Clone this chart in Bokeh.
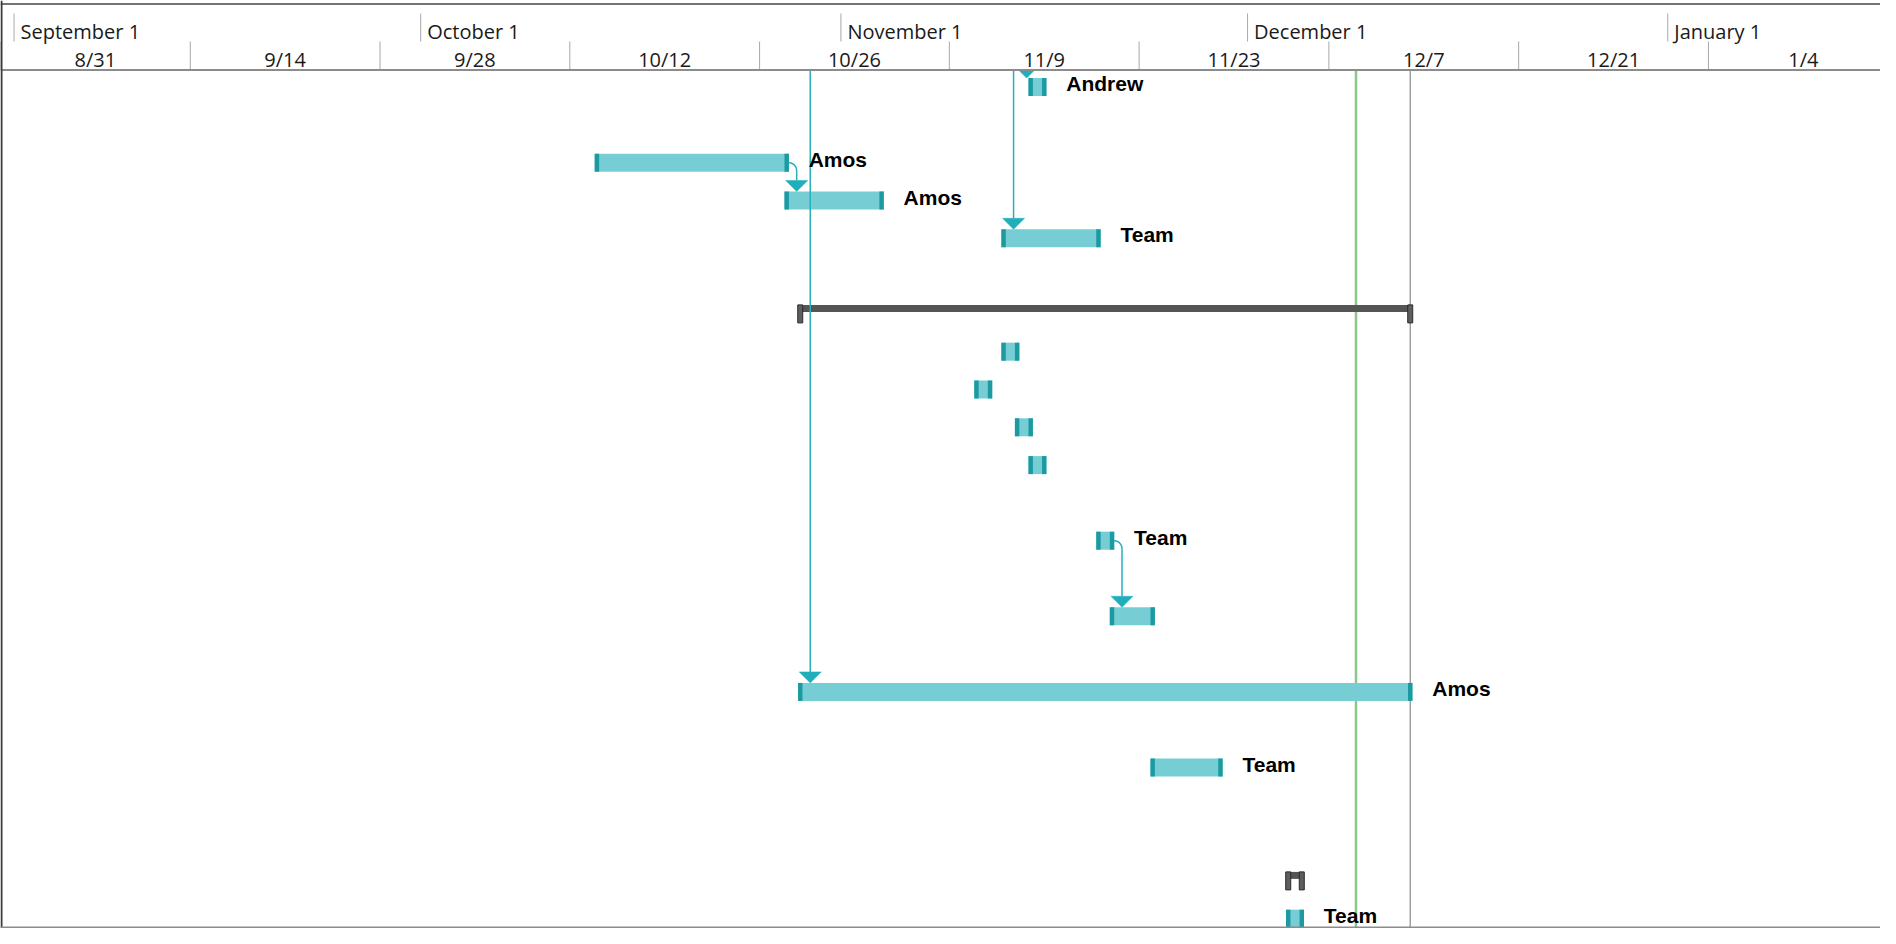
import numpy as np
import pandas as pd
from bokeh.plotting import figure
from bokeh.models import Range1d, Span
from bokeh.core.properties import value
from bokeh.embed import file_html
from bokeh.resources import INLINE

# ---------------- data ----------------
origin = "2020-08-31"
week_starts = ["2020-08-31", "2020-09-14", "2020-09-28", "2020-10-12", "2020-10-26",
               "2020-11-09", "2020-11-23", "2020-12-07", "2020-12-21", "2021-01-04"]
week_labels = ["8/31", "9/14", "9/28", "10/12", "10/26", "11/9", "11/23", "12/7", "12/21", "1/4"]
month_starts = ["2020-09-01", "2020-10-01", "2020-11-01", "2020-12-01", "2021-01-01"]
month_labels = ["September 1", "October 1", "November 1", "December 1", "January 1"]

task_row = [0, 2, 3, 4, 6, 7, 8, 9, 10, 12, 14, 16, 18, 21, 22]
task_start = ["2020-11-15", "2020-10-14", "2020-10-28", "2020-11-13", "2020-10-29",
              "2020-11-13", "2020-11-11", "2020-11-14", "2020-11-15", "2020-11-20",
              "2020-11-21", "2020-10-29", "2020-11-24", "2020-12-04", "2020-12-04"]
task_end = ["2020-11-16", "2020-10-28", "2020-11-04", "2020-11-20", "2020-12-13",
            "2020-11-14", "2020-11-12", "2020-11-15", "2020-11-16", "2020-11-21",
            "2020-11-24", "2020-12-13", "2020-11-29", "2020-12-05", "2020-12-05"]
task_type = ["task", "task", "task", "task", "summary",
             "task", "task", "task", "task", "task",
             "task", "task", "task", "summary", "task"]
task_resource = ["Andrew", "Amos", "Amos", "Team", "",
                 "", "", "", "", "Team",
                 "", "Amos", "Team", "", "Team"]

# dependencies: predecessor row (None = off-screen above) -> successor row
dep_from = [2, 12, None, None, None]
dep_to = [3, 14, 16, 4, 0]
dep_arrow_offset_px = [10, 10, 10, 10, -4]

today = "2020-12-09"
project_end = "2020-12-13"

# ---------------- scales / layout ----------------
W = 1880
H = 928
PX_DAY = 13.555
ROW_PX = 37.8
ROW0_PX = 86.6
HEADER_BOTTOM_PX = 69.5

x0 = 0.0
x1 = W / PX_DAY
y_top = (0 - ROW0_PX) / ROW_PX
y_bot = (H - ROW0_PX) / ROW_PX


def days(s):
    return (pd.Timestamp(s) - pd.Timestamp(origin)) / pd.Timedelta(days=1)


def dxp(px):
    return px / PX_DAY


def dyp(px):
    return px / ROW_PX


def yr(py):
    # frame pixel (from top) -> row units
    return (py - ROW0_PX) / ROW_PX


TEAL_LIGHT = "#77cdd4"
TEAL_DARK = "#16979f"
TEAL_LINE = "#27b0bb"
SUM_GRAY = "#555555"

p = figure(width=W, height=H, x_range=Range1d(x0, x1), y_range=Range1d(y_bot, y_top),
           toolbar_location=None, output_backend="svg", x_axis_location=None,
           y_axis_location=None, min_border=0, outline_line_color=None)
p.grid.visible = False

s_arr = np.array([days(s) for s in task_start])
e_arr = np.array([days(e) for e in task_end])
r_arr = np.array(task_row, dtype=float)
is_task = np.array([t == "task" for t in task_type])
is_sum = ~is_task

# today / project end lines (below header)
p.segment(x0=[days(today)], x1=[days(today)], y0=[yr(HEADER_BOTTOM_PX)], y1=[y_bot],
          line_color="#8cc78a", line_width=2.5)
p.segment(x0=[days(project_end)], x1=[days(project_end)], y0=[yr(HEADER_BOTTOM_PX)], y1=[y_bot],
          line_color="#8a8a8a", line_width=1.2)

# normal tasks
ts, te, tr = s_arr[is_task], e_arr[is_task], r_arr[is_task]
p.quad(left=ts - dxp(2.25), right=te + dxp(2.25), top=tr - dyp(9), bottom=tr + dyp(9),
       fill_color=TEAL_LIGHT, line_color=None)
cap_x = np.concatenate([ts, te])
cap_r = np.concatenate([tr, tr])
p.quad(left=cap_x - dxp(2.2), right=cap_x + dxp(2.2), top=cap_r - dyp(9), bottom=cap_r + dyp(9),
       fill_color=TEAL_DARK, line_color=None, fill_alpha=0.95)

# summary tasks
ss, se, sr = s_arr[is_sum], e_arr[is_sum], r_arr[is_sum]
p.quad(left=ss, right=se, top=sr - dyp(9), bottom=sr - dyp(2),
       fill_color=SUM_GRAY, line_color=None)
scx = np.concatenate([ss, se])
scr = np.concatenate([sr, sr])
p.quad(left=scx - dxp(2.5), right=scx + dxp(2.5), top=scr - dyp(9), bottom=scr + dyp(9),
       fill_color="#5e5e5e", line_color="#2a2a2a", line_width=1)

# dependencies
row_to_idx = {r: i for i, r in enumerate(task_row)}
line_xs, line_ys, tri_xs, tri_ys = [], [], [], []
for fr, to, off in zip(dep_from, dep_to, dep_arrow_offset_px):
    ti = row_to_idx[to]
    ax = s_arr[ti] + dxp(off)
    tip_y = r_arr[ti] - dyp(9)
    base_y = tip_y - dyp(11)
    if fr is None:
        line_xs.append([ax, ax])
        line_ys.append([yr(50), base_y])
    else:
        fi = row_to_idx[fr]
        sx = e_arr[fi] + dxp(2.25)
        sy = r_arr[fi]
        rad = 8
        cx, cy = ax - dxp(rad), sy + dyp(rad)
        t = np.linspace(0, np.pi / 2, 12)
        xs = [sx] + list(cx + dxp(rad) * np.sin(t)) + [ax]
        ys = [sy] + list(cy - dyp(rad) * np.cos(t)) + [base_y]
        line_xs.append(xs)
        line_ys.append(ys)
    tri_xs.append([ax - dxp(11), ax + dxp(11), ax])
    tri_ys.append([base_y, base_y, tip_y])

p.multi_line(xs=line_xs, ys=line_ys, line_color=TEAL_LINE, line_width=1.5)
p.patches(xs=tri_xs, ys=tri_ys, fill_color="#20afba", line_color="#20afba", line_width=0.5)

# resource labels
lab_idx = [i for i, t in enumerate(task_resource) if t]
p.text(x=[e_arr[i] + dxp(22) for i in lab_idx], y=[r_arr[i] - dyp(3.5) for i in lab_idx],
       text=[task_resource[i] for i in lab_idx], text_font=value("Liberation Sans"),
       text_font_style="bold", text_font_size="21px", text_color="#000000",
       text_align="left", text_baseline="middle")

# ---------------- header (timescale) ----------------
p.quad(left=[x0], right=[x1], top=[y_top], bottom=[yr(HEADER_BOTTOM_PX)],
       fill_color="white", line_color=None)
m_x = [days(m) for m in month_starts]
w_x = [days(w) for w in week_starts]
p.segment(x0=m_x, x1=m_x, y0=yr(13), y1=yr(41), line_color="#a8a8a8", line_width=1)
p.segment(x0=w_x, x1=w_x, y0=yr(41), y1=yr(69), line_color="#a8a8a8", line_width=1)
p.text(x=[m + dxp(6.5) for m in m_x], y=[yr(30.5)] * len(m_x), text=month_labels,
       text_font=value("Open Sans"), text_font_size="20px", text_color="#1a1a1a",
       text_align="left", text_baseline="middle")
p.text(x=[w + 7 for w in w_x], y=[yr(59)] * len(w_x), text=week_labels,
       text_font=value("Open Sans"), text_font_size="20px", text_color="#1a1a1a",
       text_align="center", text_baseline="middle")
p.segment(x0=[x0], x1=[x1], y0=[yr(HEADER_BOTTOM_PX)], y1=[yr(HEADER_BOTTOM_PX)],
          line_color="#8c8c8c", line_width=2)
p.segment(x0=[x0], x1=[x1], y0=[yr(3.5)], y1=[yr(3.5)], line_color="#444444", line_width=1.5)

# borders
p.add_layout(Span(location=x0 + dxp(1), dimension="height", line_color="#3a3a3a", line_width=2))
p.add_layout(Span(location=y_bot - dyp(1), dimension="width", line_color="#8c8c8c", line_width=2))

open("out.html", "w").write(file_html(p, INLINE))
